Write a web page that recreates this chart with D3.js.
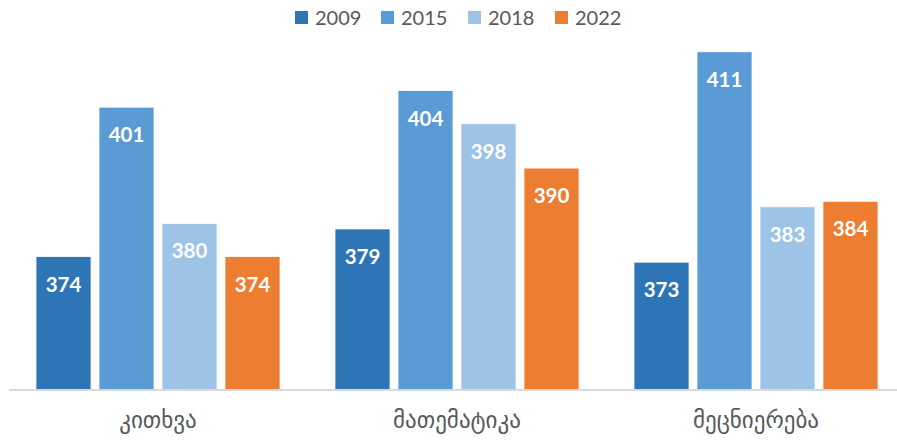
<!DOCTYPE html>
<html>
<head>
<meta charset="utf-8">
<script src="https://cdn.jsdelivr.net/npm/d3@7"></script>
<style>
    body { margin: 0; background: #fff; }
    svg { display: block; }
</style>
</head>
<body>
<div class="chart"></div>
<script>
let categories = ['კითხვა', 'მათემატიკა', 'მეცნიერება'];
let years = ['2009', '2015', '2018', '2022'];
let colors = ['#2e75b6', '#5b9bd5', '#9dc3e6', '#ed7d31'];
let values2009 = [374, 379, 373];
let values2015 = [401, 404, 411];
let values2018 = [380, 398, 383];
let values2022 = [374, 390, 384];

let seriesValues = [values2009, values2015, values2018, values2022];

let width = 897;
let height = 441;

let svg = d3.select('.chart').append('svg')
    .attr('width', width)
    .attr('height', height);

let x0 = d3.scaleBand()
    .domain(categories)
    .range([8.5, 905.5])
    .paddingInner(0)
    .paddingOuter(0);

let x1 = d3.scaleBand()
    .domain(years)
    .range([27.5, 299 - 27.5])
    .paddingInner(0.127);

let y = d3.scaleLinear()
    .domain([350, 420])
    .range([389.5, 2]);

let data = [];
categories.forEach(function (cat, i) {
    years.forEach(function (yr, k) {
        data.push({ cat: cat, year: yr, value: seriesValues[k][i], color: colors[k] });
    });
});

let bars = svg.append('g').attr('class', 'bars');
bars.selectAll('rect').data(data).enter().append('rect')
    .attr('x', d => x0(d.cat) + x1(d.year))
    .attr('y', d => y(d.value))
    .attr('width', x1.bandwidth())
    .attr('height', d => y(350) - y(d.value))
    .attr('fill', d => d.color)
    .attr('stroke', '#fff')
    .attr('stroke-width', 0.75);

bars.selectAll('text').data(data).enter().append('text')
    .attr('x', d => x0(d.cat) + x1(d.year) + x1.bandwidth() / 2)
    .attr('y', d => y(d.value) + 35)
    .attr('text-anchor', 'middle')
    .attr('fill', '#fff')
    .style('font-family', 'Lato, sans-serif')
    .style('font-weight', 'bold')
    .style('font-size', '20.5px')
    .text(d => d.value);

// x axis
let xAxis = d3.axisBottom(x0).tickSize(0).tickPadding(22);
let axisG = svg.append('g')
    .attr('transform', 'translate(0,' + y(350) + ')')
    .call(xAxis);
axisG.select('.domain').attr('stroke', '#d9d9d9').attr('stroke-width', 2);
axisG.selectAll('text')
    .attr('fill', '#595959')
    .style('font-family', '"DejaVu Sans", sans-serif')
    .style('font-size', '23px');

// legend
let legendX = [295, 381, 468, 555];
let legend = svg.append('g').attr('class', 'legend');
let item = legend.selectAll('g').data(years).enter().append('g')
    .attr('transform', (d, k) => 'translate(' + legendX[k] + ',11)');
item.append('rect')
    .attr('width', 13)
    .attr('height', 13)
    .attr('fill', (d, k) => colors[k]);
item.append('text')
    .attr('x', 20)
    .attr('y', 14)
    .attr('fill', '#595959')
    .style('font-family', 'Lato, sans-serif')
    .style('font-size', '20px')
    .text(d => d);
</script>
</body>
</html>
